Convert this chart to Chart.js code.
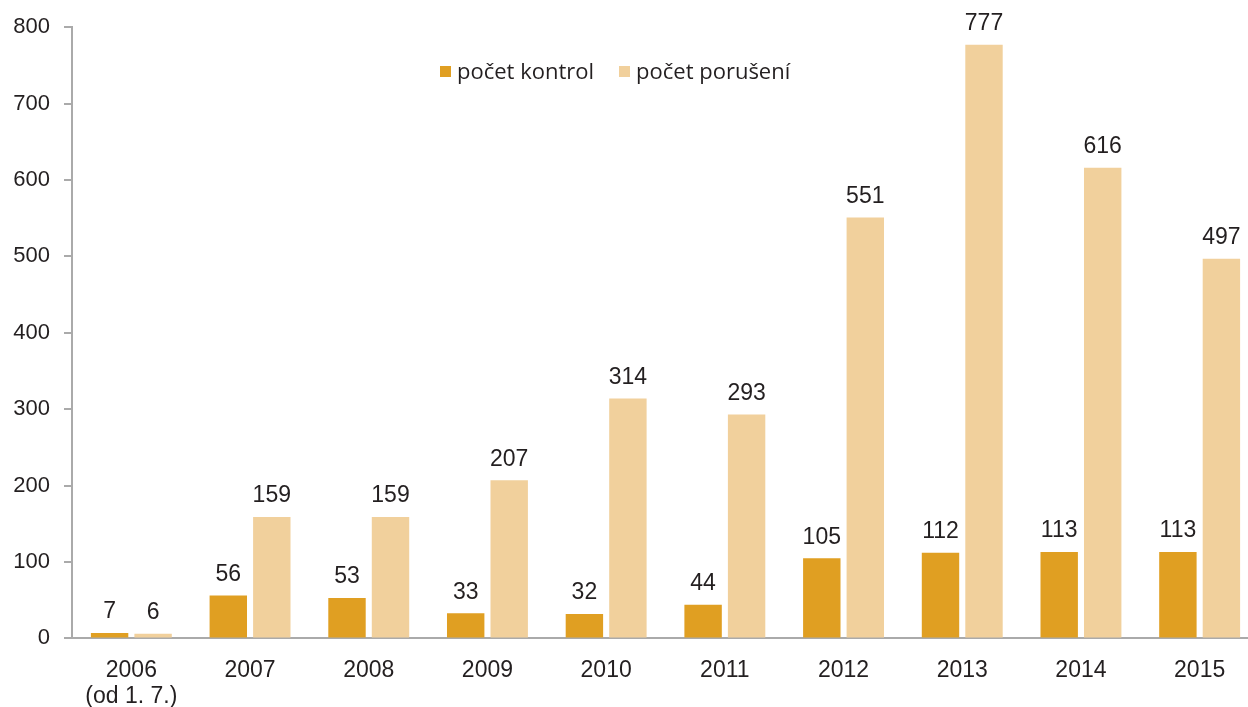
<!DOCTYPE html>
<html>
<head>
<meta charset="utf-8">
<script src="https://cdn.jsdelivr.net/npm/chart.js@4"></script>
<style>
    html, body { margin: 0; padding: 0; background: #fff; overflow: hidden; }
    #wrap { position: relative; width: 1260px; height: 707px; }
    #legend { position: absolute; left: 440px; top: 55px; font: 22px "Open Sans", sans-serif; color: #231f20; white-space: nowrap; }
    #legend span.box { display: inline-block; width: 11px; height: 11px; margin-right: 6px; vertical-align: 2px; }
    #legend span.item { margin-right: 25px; }
</style>
</head>
<body>
<div id="wrap">
    <canvas id="metricsChart" width="1260" height="707"></canvas>
    <div id="legend"></div>
</div>
<script>
const years = [['2006', '(od 1. 7.)'], '2007', '2008', '2009', '2010', '2011', '2012', '2013', '2014', '2015'];
const kontrol = [7, 56, 53, 33, 32, 44, 105, 112, 113, 113];
const poruseni = [6, 159, 159, 207, 314, 293, 551, 777, 616, 497];
const seriesNames = ['počet kontrol', 'počet porušení'];
const seriesColors = ['#e09f22', '#f1d09c'];

const textColor = '#231f20';
const axisColor = '#aaaaaa';
const numFont = '"Liberation Sans", Arial, sans-serif';

// values written above each bar
const barValues = {
    id: 'barValues',
    afterDatasetsDraw(chart) {
        const ctx = chart.ctx;
        ctx.save();
        ctx.font = '23px ' + numFont;
        ctx.fillStyle = textColor;
        ctx.textAlign = 'center';
        ctx.textBaseline = 'middle';
        chart.data.datasets.forEach((ds, i) => {
            chart.getDatasetMeta(i).data.forEach((bar, j) => {
                ctx.fillText(ds.data[j], bar.x, bar.y - 21);
            });
        });
        ctx.restore();
    }
};

function buildLegend() {
    const legend = document.getElementById('legend');
    seriesNames.forEach((name, i) => {
        const item = document.createElement('span');
        item.className = 'item';
        const box = document.createElement('span');
        box.className = 'box';
        box.style.background = seriesColors[i];
        item.appendChild(box);
        item.appendChild(document.createTextNode(name));
        legend.appendChild(item);
    });
}

function drawChart() {
    const canvas = document.getElementById('metricsChart');
    new Chart(canvas, {
        type: 'bar',
        data: {
            labels: years,
            datasets: [
                { label: seriesNames[0], data: kontrol, backgroundColor: seriesColors[0] },
                { label: seriesNames[1], data: poruseni, backgroundColor: seriesColors[1] }
            ]
        },
        options: {
            responsive: false,
            animation: false,
            categoryPercentage: 0.733,
            barPercentage: 0.86,
            layout: { padding: { top: 20, right: 1, bottom: -22, left: 0 } },
            plugins: {
                legend: { display: false },
                tooltip: { enabled: false }
            },
            scales: {
                x: {
                    grid: { drawOnChartArea: false, drawTicks: false },
                    border: { color: axisColor, width: 2 },
                    ticks: {
                        color: textColor,
                        padding: 20,
                        font: { family: numFont, size: 23, lineHeight: 1.1 }
                    }
                },
                y: {
                    min: 0,
                    max: 800,
                    afterFit(scale) { scale.width = 72; },
                    grid: { drawOnChartArea: false, drawTicks: true, tickLength: 8, color: axisColor, lineWidth: 2 },
                    border: { color: axisColor, width: 2 },
                    ticks: {
                        stepSize: 100,
                        color: textColor,
                        padding: 14,
                        font: { family: numFont, size: 22 }
                    }
                }
            }
        },
        plugins: [barValues]
    });
}

buildLegend();
drawChart();
</script>
</body>
</html>
